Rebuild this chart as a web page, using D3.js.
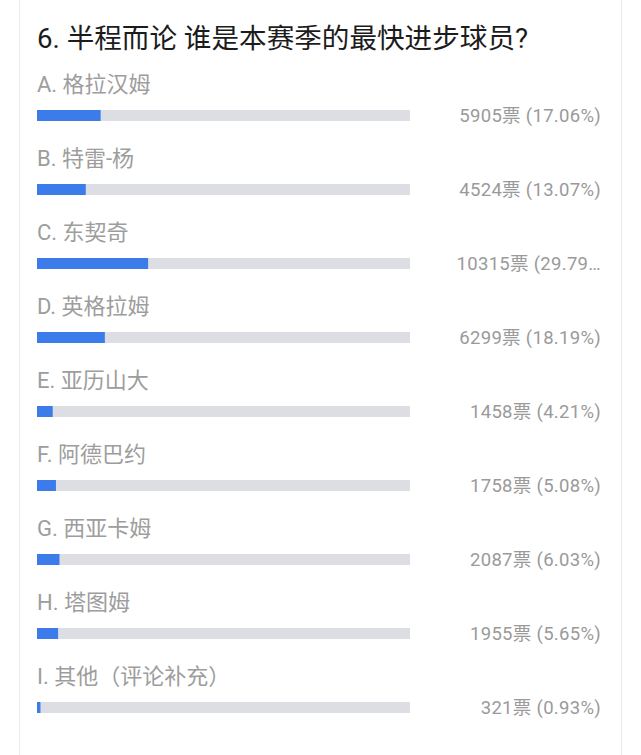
<!DOCTYPE html>
<html>
<head>
<meta charset="utf-8">
<script src="https://cdn.jsdelivr.net/npm/d3@7"></script>
<style>
  html, body { margin: 0; padding: 0; background: #fff; }
  svg { display: block; }
  text { font-family: Roboto, "Noto Sans CJK SC", sans-serif; }
</style>
</head>
<body>
<script>
const title = "6. 半程而论 谁是本赛季的最快进步球员?";
const letters = ["A", "B", "C", "D", "E", "F", "G", "H", "I"];
const categories = ["格拉汉姆", "特雷-杨", "东契奇", "英格拉姆", "亚历山大", "阿德巴约", "西亚卡姆", "塔图姆", "其他（评论补充）"];
const votes = [5905, 4524, 10315, 6299, 1458, 1758, 2087, 1955, 321];
const percents = [17.06, 13.07, 29.79, 18.19, 4.21, 5.08, 6.03, 5.65, 0.93];

const W = 641, H = 755;
const svg = d3.select("body").append("svg").attr("width", W).attr("height", H);

// card side borders
svg.append("line").attr("x1", 19.5).attr("x2", 19.5).attr("y1", 0).attr("y2", H)
  .attr("stroke", "#ececec").attr("stroke-width", 1.2);
svg.append("line").attr("x1", 621.5).attr("x2", 621.5).attr("y1", 0).attr("y2", H)
  .attr("stroke", "#ececec").attr("stroke-width", 1.2);

svg.append("text").attr("x", 37).attr("y", 47.5)
  .attr("font-size", 27.6).attr("fill", "#1c1c1c").text(title);

const x = d3.scaleLinear().domain([0, 100]).range([37, 410]);
const y = d3.scaleBand().domain(d3.range(categories.length))
  .range([110, 110 + 74 * categories.length]).paddingInner(0);
const barH = 11;

const rows = svg.selectAll("g.row").data(categories.map((c, i) => ({
  label: letters[i] + ". " + c, votes: votes[i], pct: percents[i], i
}))).join("g").attr("class", "row")
  .attr("transform", d => `translate(0,${y(d.i)})`);

rows.append("text").attr("x", 37).attr("y", -18.5)
  .attr("font-size", 22).attr("fill", "#9d9d9d").text(d => d.label);

rows.append("rect").attr("x", x(0)).attr("y", 0)
  .attr("width", x(100) - x(0)).attr("height", barH).attr("fill", "#dcdee3");

rows.append("rect").attr("x", x(0)).attr("y", 0)
  .attr("width", d => x(d.pct) - x(0)).attr("height", barH).attr("fill", "#3b7bea");

const maxW = 148;
rows.append("text").attr("x", 601).attr("y", 12)
  .attr("text-anchor", "end").attr("font-size", 18.5).attr("letter-spacing", 0.3)
  .attr("fill", "#9a9a9a")
  .text(d => `${d.votes}票 (${d.pct.toFixed(2)}%)`)
  .each(function(d) {
    const el = d3.select(this);
    let full = el.text();
    if (this.getComputedTextLength() > maxW) {
      let s = full;
      while (s.length > 1) {
        s = s.slice(0, -1);
        el.text(s + "…");
        if (this.getComputedTextLength() <= maxW) break;
      }
    }
  });
</script>
</body>
</html>
